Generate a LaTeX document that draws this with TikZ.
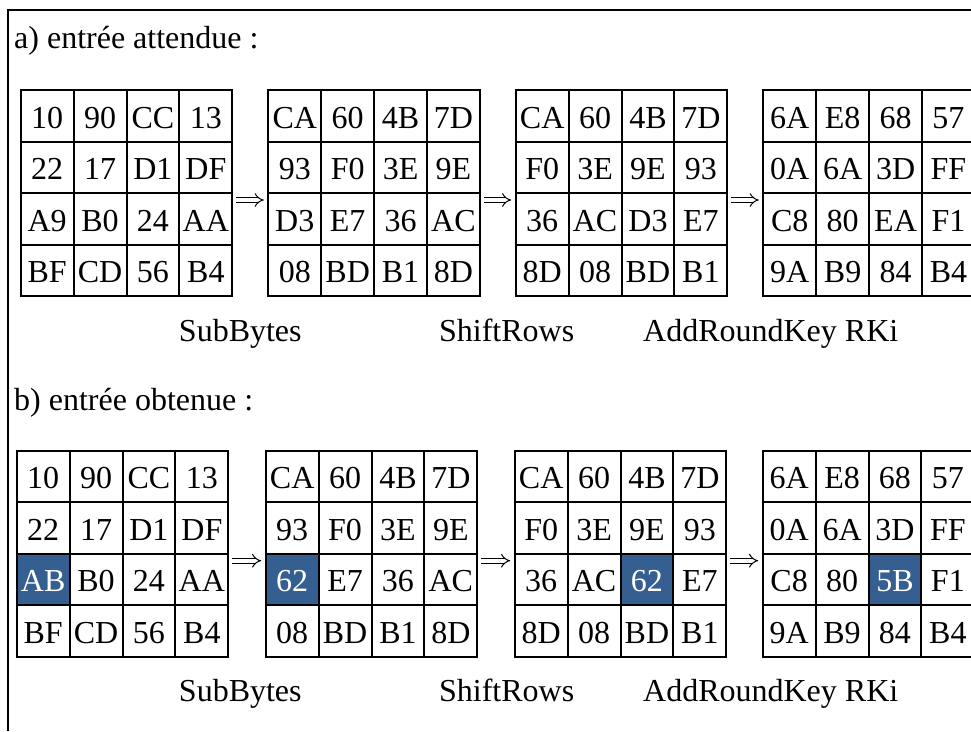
\documentclass[tikz,border=0pt]{standalone}
\usepackage{fontspec}
\setmainfont{Liberation Serif}
\usepackage{xcolor}
\usepackage{tikz}
\usetikzlibrary{arrows.meta,matrix,positioning}
\definecolor{cellblue}{RGB}{54,95,145}

\begin{document}
\begin{tikzpicture}[
  x=1pt, y=-1pt,
  cell/.style={draw, line width=2pt, minimum width=52.9pt,
               minimum height=51.5pt, inner sep=0pt, outer sep=0pt,
               text height=25pt, text depth=0pt,
               font=\fontsize{32}{38}\selectfont},
  state/.style={matrix of nodes, inner sep=0pt, outer sep=0pt,
                column sep=-2pt, row sep=-2pt, anchor=north west,
                nodes={cell}},
  hl/.style={fill=cellblue, text=white},
  lbl/.style={anchor=base, inner sep=0pt, font=\fontsize{32}{38}\selectfont},
  head/.style={anchor=base west, inner sep=0pt,
               font=\fontsize{32}{38}\selectfont},
  dbl/.style={double, double distance=3.8pt, line width=1pt,
              -{Implies[length=7pt, width=14pt]},
              shorten <=3pt, shorten >=3.5pt}
]
\useasboundingbox (0,0) rectangle (971,731);
\draw[line width=1.8pt] (8.3,731) -- (8.3,9.7) -- (971,9.7);

\node[head] (headA) at (14,48) {a) entrée attendue :};
\matrix[state] (inA) at (19.7,89) {
  10 & 90 & CC & 13 \\
  22 & 17 & D1 & DF \\
  A9 & B0 & 24 & AA \\
  BF & CD & 56 & B4 \\
};
\matrix[state] (subA) at (267.3,89) {
  CA & 60 & 4B & 7D \\
  93 & F0 & 3E & 9E \\
  D3 & E7 & 36 & AC \\
  08 & BD & B1 & 8D \\
};
\matrix[state] (shiftA) at (514.7,89) {
  CA & 60 & 4B & 7D \\
  F0 & 3E & 9E & 93 \\
  36 & AC & D3 & E7 \\
  8D & 08 & BD & B1 \\
};
\matrix[state] (keyA) at (762.3,89) {
  6A & E8 & 68 & 57 \\
  0A & 6A & 3D & FF \\
  C8 & 80 & EA & F1 \\
  9A & B9 & 84 & B4 \\
};
\node[lbl] (subLblA) at (240.3,341.5) {SubBytes};
\node[lbl] (shiftLblA) at (506.7,341.5) {ShiftRows};
\node[lbl] (keyLblA) at (770.7,341.5) {AddRoundKey RKi};

\node[head] (headB) at (14,410) {b) entrée obtenue :};
\matrix[state] (inB) at (15.7,449.7) {
  10 & 90 & CC & 13 \\
  22 & 17 & D1 & DF \\
  |[hl]| AB & B0 & 24 & AA \\
  BF & CD & 56 & B4 \\
};
\matrix[state] (subB) at (264.7,449.7) {
  CA & 60 & 4B & 7D \\
  93 & F0 & 3E & 9E \\
  |[hl]| 62 & E7 & 36 & AC \\
  08 & BD & B1 & 8D \\
};
\matrix[state] (shiftB) at (513.7,449.7) {
  CA & 60 & 4B & 7D \\
  F0 & 3E & 9E & 93 \\
  36 & AC & |[hl]| 62 & E7 \\
  8D & 08 & BD & B1 \\
};
\matrix[state] (keyB) at (761.7,449.7) {
  6A & E8 & 68 & 57 \\
  0A & 6A & 3D & FF \\
  C8 & 80 & |[hl]| 5B & F1 \\
  9A & B9 & 84 & B4 \\
};
\node[lbl] (subLblB) at (240.3,701.5) {SubBytes};
\node[lbl] (shiftLblB) at (506.7,701.5) {ShiftRows};
\node[lbl] (keyLblB) at (770.7,701.5) {AddRoundKey RKi};

\draw[dbl] ([yshift=-7pt]inA.east) -- ([yshift=-7pt]subA.west);
\draw[dbl] ([yshift=-7pt]subA.east) -- ([yshift=-7pt]shiftA.west);
\draw[dbl] ([yshift=-7pt]shiftA.east) -- ([yshift=-7pt]keyA.west);
\draw[dbl] ([yshift=-7pt]inB.east) -- ([yshift=-7pt]subB.west);
\draw[dbl] ([yshift=-7pt]subB.east) -- ([yshift=-7pt]shiftB.west);
\draw[dbl] ([yshift=-7pt]shiftB.east) -- ([yshift=-7pt]keyB.west);
\end{tikzpicture}
\end{document}
